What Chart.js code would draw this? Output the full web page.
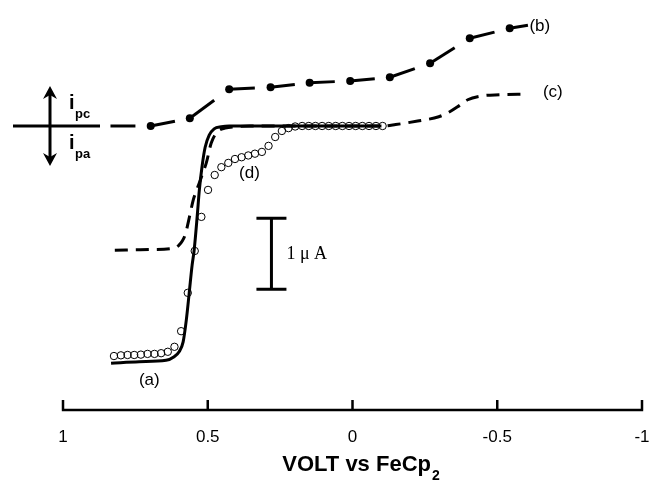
<!DOCTYPE html>
<html>
<head>
<meta charset="utf-8">
<script src="https://cdn.jsdelivr.net/npm/chart.js@4/dist/chart.umd.min.js"></script>
<style>
  html, body { margin: 0; padding: 0; background: #fff; }
  #wrap { width: 649px; height: 482px; }
</style>
</head>
<body>
<div id="wrap"><canvas id="cv" width="649" height="482"></canvas></div>
<script>
// voltage (V vs FeCp2) and current (µA, cathodic up)
const voltA = [0.834, 0.737, 0.644, 0.616, 0.599, 0.585, 0.574, 0.564, 0.554, 0.547, 0.536, 0.529, 0.519, 0.509, 0.495, 0.478, 0.453, 0.426, 0.2, 0.0, -0.1];
const currA = [-3.34, -3.32, -3.30, -3.25, -3.18, -3.04, -2.73, -2.35, -1.96, -1.75, -1.25, -0.90, -0.55, -0.30, -0.13, -0.04, -0.01, 0, 0, 0, 0];

const voltB = [0.836, 0.697, 0.562, 0.426, 0.283, 0.148, 0.008, -0.129, -0.268, -0.405, -0.543, -0.606];
const currB = [0, 0, 0.108, 0.517, 0.545, 0.61, 0.634, 0.686, 0.883, 1.235, 1.376, 1.42];
const markB = [0, 4, 4, 4, 4, 4, 4, 4, 4, 4, 4, 0];

const voltC = [0.821, 0.70, 0.616, 0.600, 0.588, 0.577, 0.567, 0.560, 0.550, 0.540, 0.529, 0.517, 0.505, 0.488, 0.467, 0.440, 0.400, 0.356, 0.0, -0.104, -0.149, -0.225, -0.298, -0.336, -0.363, -0.398, -0.44, -0.509, -0.602];
const currC = [-1.75, -1.74, -1.72, -1.68, -1.62, -1.52, -1.35, -1.22, -1.04, -0.92, -0.80, -0.66, -0.52, -0.24, -0.085, -0.03, -0.01, 0, 0, 0, 0.02, 0.07, 0.13, 0.20, 0.27, 0.37, 0.42, 0.44, 0.45];

const voltD = [0.824, 0.800, 0.777, 0.754, 0.731, 0.708, 0.684, 0.661, 0.638, 0.615, 0.592, 0.569, 0.545, 0.522, 0.499, 0.476, 0.453, 0.429, 0.406, 0.383, 0.360, 0.337, 0.313, 0.290, 0.267, 0.244, 0.221, 0.198, 0.174, 0.151, 0.128, 0.105, 0.082, 0.058, 0.035, 0.012, -0.011, -0.034, -0.057, -0.081, -0.104];
const currD = [-3.24, -3.23, -3.225, -3.225, -3.22, -3.21, -3.21, -3.20, -3.18, -3.11, -2.89, -2.35, -1.76, -1.28, -0.90, -0.69, -0.58, -0.52, -0.465, -0.44, -0.415, -0.39, -0.365, -0.28, -0.155, -0.07, -0.03, -0.007, 0, 0, 0, 0, 0, 0, 0, 0, 0, 0, 0, 0, 0];

const xTicks = [1, 0.5, 0, -0.5, -1];
const xTickLabels = ["1", "0.5", "0", "-0.5", "-1"];

// curve labels [text, volt, current]
const curveLabels = [["(a)", 0.702, -3.58], ["(b)", -0.647, 1.41], ["(c)", -0.692, 0.48], ["(d)", 0.356, -0.66]];
// 1 µA scale bar: volt, top, bottom
const scaleBar = [0.280, -1.3, -2.3];

const FONT = "'Liberation Sans', Arial, sans-serif";

function pts(xs, ys){ return xs.map((x, i) => ({ x, y: ys[i] })); }

const decor = {
  id: "decor",
  afterDraw(chart){
    const { ctx, chartArea, scales: { x, y } } = chart;
    ctx.save();
    ctx.strokeStyle = "#000";
    ctx.fillStyle = "#000";
    ctx.lineCap = "butt";

    // bottom axis with inward ticks
    const ay = chartArea.bottom;
    ctx.lineWidth = 2.5;
    ctx.beginPath();
    ctx.moveTo(x.getPixelForValue(1) - 1.2, ay);
    ctx.lineTo(x.getPixelForValue(-1) + 1.2, ay);
    for (const t of xTicks){
      const px = x.getPixelForValue(t);
      ctx.moveTo(px, ay);
      ctx.lineTo(px, ay - 10);
    }
    ctx.stroke();

    ctx.font = "17px " + FONT;
    ctx.textAlign = "center";
    ctx.textBaseline = "middle";
    xTicks.forEach((t, i) => {
      ctx.fillText(xTickLabels[i], x.getPixelForValue(t), ay + 27);
    });

    // axis title with subscript
    ctx.font = "bold 22px " + FONT;
    ctx.textBaseline = "alphabetic";
    const main = "VOLT vs FeCp";
    const w1 = ctx.measureText(main).width;
    ctx.font = "bold 14px " + FONT;
    const w2 = ctx.measureText("2").width;
    const cx = x.getPixelForValue(0) + 8;
    const tx = cx - (w1 + w2) / 2;
    ctx.font = "bold 22px " + FONT;
    ctx.textAlign = "left";
    ctx.fillText(main, tx, 471);
    ctx.font = "bold 14px " + FONT;
    ctx.fillText("2", tx + w1 + 1, 480);

    // curve labels
    ctx.font = "17px " + FONT;
    ctx.textAlign = "center";
    ctx.textBaseline = "middle";
    for (const [t, v, c] of curveLabels){
      ctx.fillText(t, x.getPixelForValue(v), y.getPixelForValue(c));
    }

    // scale bar
    const sx = x.getPixelForValue(scaleBar[0]);
    const sy1 = y.getPixelForValue(scaleBar[1]);
    const sy2 = y.getPixelForValue(scaleBar[2]);
    ctx.lineWidth = 3;
    ctx.beginPath();
    ctx.moveTo(sx, sy1); ctx.lineTo(sx, sy2);
    ctx.moveTo(sx - 15, sy1); ctx.lineTo(sx + 15, sy1);
    ctx.moveTo(sx - 15, sy2); ctx.lineTo(sx + 15, sy2);
    ctx.stroke();
    ctx.font = "18px 'Liberation Serif', 'Times New Roman', serif";
    ctx.textAlign = "left";
    ctx.fillText("1 \u03bc A", sx + 15, (sy1 + sy2) / 2);

    // current direction symbol
    const by = y.getPixelForValue(0);
    ctx.lineWidth = 3;
    ctx.beginPath();
    ctx.moveTo(13, by); ctx.lineTo(100, by);
    ctx.moveTo(50, by - 34); ctx.lineTo(50, by + 34);
    ctx.stroke();
    ctx.beginPath();
    ctx.moveTo(50, by - 40); ctx.lineTo(43, by - 27); ctx.lineTo(50, by - 31); ctx.lineTo(57, by - 27); ctx.closePath();
    ctx.moveTo(50, by + 40); ctx.lineTo(43, by + 27); ctx.lineTo(50, by + 31); ctx.lineTo(57, by + 27); ctx.closePath();
    ctx.fill();
    ctx.textAlign = "left";
    ctx.textBaseline = "alphabetic";
    ctx.font = "bold 20px " + FONT;
    ctx.fillText("i", 69, by - 17);
    ctx.fillText("i", 69, by + 23);
    ctx.font = "bold 13px " + FONT;
    ctx.fillText("pc", 75, by - 8);
    ctx.fillText("pa", 75, by + 32);

    ctx.restore();
  }
};

new Chart(document.getElementById("cv"), {
  type: "line",
  data: {
    datasets: [
      {
        label: "(a)",
        data: pts(voltA, currA),
        borderColor: "#000",
        borderWidth: 3,
        pointRadius: 0,
        cubicInterpolationMode: "monotone",
        fill: false,
      },
      {
        label: "(c)",
        data: pts(voltC, currC),
        borderColor: "#000",
        borderWidth: 3,
        borderDash: [13, 8],
        pointRadius: 0,
        cubicInterpolationMode: "monotone",
        fill: false,
      },
      {
        label: "(b)",
        data: pts(voltB, currB),
        borderColor: "#000",
        borderWidth: 3,
        pointRadius: markB,
        pointBackgroundColor: "#000",
        pointBorderWidth: 0,
        tension: 0,
        fill: false,
        segment: {
          // each piece starts at a marker and stops short of the next one
          borderDash: (c) => {
            const L = Math.hypot(c.p1.x - c.p0.x, c.p1.y - c.p0.y);
            if (c.p1DataIndex === voltB.length - 1) return [L + 2, 0];
            return [L * 0.62, L];
          }
        }
      },
      {
        label: "(d)",
        data: pts(voltD, currD),
        showLine: false,
        pointRadius: 3.7,
        pointBorderWidth: 1,
        pointBorderColor: "#000",
        pointBackgroundColor: "rgba(255,255,255,0)",
      },
    ]
  },
  options: {
    responsive: false,
    animation: false,
    layout: { padding: { left: 63, right: 7, top: 6, bottom: 72 } },
    plugins: { legend: { display: false }, tooltip: { enabled: false } },
    scales: {
      x: {
        type: "linear",
        display: false,
        reverse: true,
        min: -1,
        max: 1,
      },
      y: {
        display: false,
        min: -4.0,
        max: 1.690,
      }
    }
  },
  plugins: [decor]
});
</script>
</body>
</html>
